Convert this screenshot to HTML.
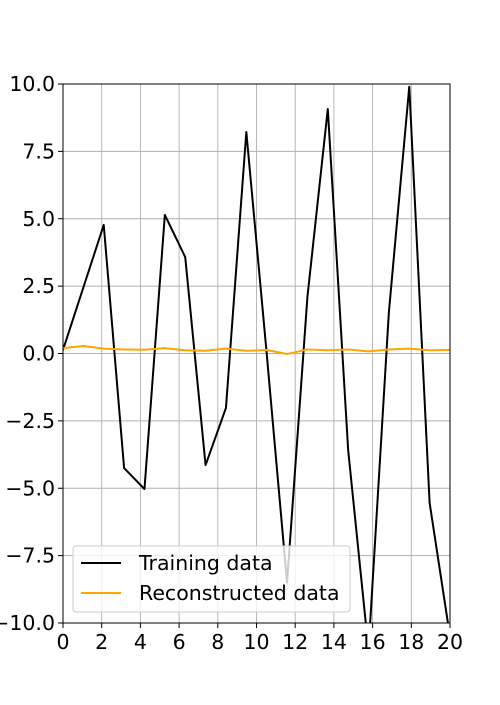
<!DOCTYPE html>
<html><head><meta charset="utf-8"><style>
body{margin:0;background:#fff;}
svg text{font-family:"DejaVu Sans","Liberation Sans",sans-serif;font-size:20.5px;fill:#000;}
</style></head><body>
<svg id="chart" width="500" height="700" xmlns="http://www.w3.org/2000/svg">
<defs><clipPath id="clip"><rect x="63" y="84" width="387" height="539"/></clipPath></defs>
<g id="grid"></g>
<g id="series" clip-path="url(#clip)"></g>
<rect x="63" y="84" width="387" height="539" fill="none" stroke="#000" stroke-width="1"/>
<g id="axes"></g>
<g>
<rect x="73" y="546" width="277" height="66" rx="3" fill="#fff" fill-opacity="0.8" stroke="#ccc"/>
<line x1="81" y1="563" x2="121" y2="563" stroke="#000" stroke-width="2"/>
<text x="139" y="570">Training data</text>
<line x1="81" y1="593" x2="121" y2="593" stroke="orange" stroke-width="2"/>
<text x="139" y="600">Reconstructed data</text>
</g>
</svg>
<script>
const trainingValues=[0.13,2.45,4.77,-4.25,-5.03,5.14,3.58,-4.14,-2.02,8.22,0,-8.5,2.1,9.07,-3.58,-11,1.54,9.9,-5.55,-10.5];
const reconstructedValues=[0.2,0.28,0.18,0.15,0.14,0.2,0.12,0.1,0.18,0.1,0.13,-0.02,0.15,0.12,0.15,0.08,0.15,0.18,0.12,0.13];
const xTicks=[0,2,4,6,8,10,12,14,16,18,20];
const yTicks=[-10,-7.5,-5,-2.5,0,2.5,5,7.5,10];
const yTickLabels=["\u221210.0","\u22127.5","\u22125.0","\u22122.5","0.0","2.5","5.0","7.5","10.0"];
const X0=63,X1=450,Y0=623,Y1=84;
const sx=v=>X0+(v-0)/20*(X1-X0);
const sy=v=>Y0-(v+10)/20*(Y0-Y1);
const NS="http://www.w3.org/2000/svg";
const grid=document.getElementById('grid'),axes=document.getElementById('axes'),series=document.getElementById('series');
function mk(tag,attrs,parent){const e=document.createElementNS(NS,tag);for(const k in attrs)e.setAttribute(k,attrs[k]);parent.appendChild(e);return e;}
xTicks.forEach(t=>{
 const g=mk('line',{x1:sx(t),x2:sx(t),y1:Y1,y2:Y0,stroke:'#b0b0b0','stroke-width':0.9},grid);
 
 
 const tk=mk('line',{x1:sx(t),x2:sx(t),y1:Y0,y2:Y0+5,stroke:'#000'},axes);
 
 
 const tx=mk('text',{x:sx(t),y:Y0+26,'text-anchor':'middle'},axes);tx.textContent=t;
 
 
});
yTicks.forEach((t,i)=>{
 const g=mk('line',{x1:X0,x2:X1,y1:sy(t),y2:sy(t),stroke:'#b0b0b0','stroke-width':0.9},grid);
 
 
 const tk=mk('line',{x1:X0-5,x2:X0,y1:sy(t),y2:sy(t),stroke:'#000'},axes);
 
 
 const tx=mk('text',{x:X0-8,y:sy(t)+7,'text-anchor':'end'},axes);tx.textContent=yTickLabels[i];
 
 
});
function line(vals,color,name){
 const n=vals.length;
 const pts=vals.map((v,i)=>sx(i*20/(n-1))+','+sy(v)).join(' ');
 const p=mk('polyline',{points:pts,fill:'none',stroke:color,'stroke-width':2,'stroke-linejoin':'round'},series);
 
 
}
line(trainingValues,'#000','training-line');
line(reconstructedValues,'orange','reconstructed-line');
</script>
</body></html>
